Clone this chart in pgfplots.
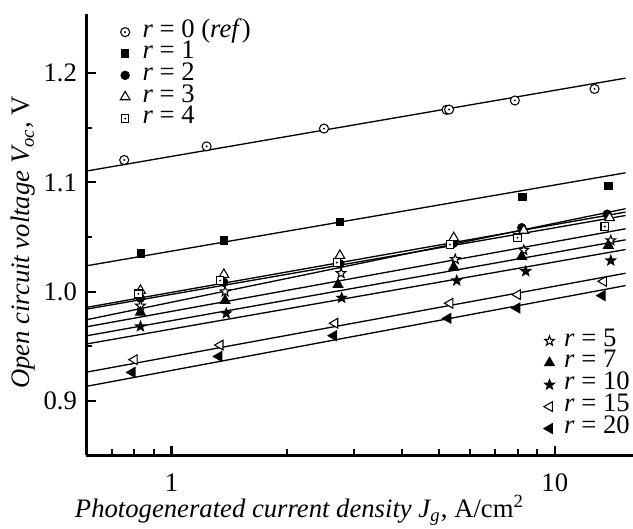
\documentclass[border=0pt]{standalone}
\usepackage{fontspec}
\setmainfont{Liberation Serif}
\usepackage{pgfplots}
\pgfplotsset{compat=1.18}
\usetikzlibrary{plotmarks}

\pgfdeclareplotmark{odot}{%
  \pgfpathcircle{\pgfpointorigin}{\pgfplotmarksize}\pgfusepathqfillstroke
  \begin{pgfscope}\pgfsetfillcolor{black}%
  \pgfpathcircle{\pgfpointorigin}{0.4pt}\pgfusepathqfill\end{pgfscope}}
\pgfdeclareplotmark{sdot}{%
  \pgfpathrectanglecorners{\pgfpoint{-\pgfplotmarksize}{-\pgfplotmarksize}}{\pgfpoint{\pgfplotmarksize}{\pgfplotmarksize}}\pgfusepathqfillstroke
  \begin{pgfscope}\pgfsetfillcolor{black}%
  \pgfpathcircle{\pgfpointorigin}{0.4pt}\pgfusepathqfill\end{pgfscope}}
\pgfdeclareplotmark{pstar}{%
  \pgfpathmoveto{\pgfpointpolar{90}{\pgfplotmarksize}}%
  \pgfpathlineto{\pgfpointpolar{126}{0.42\pgfplotmarksize}}%
  \pgfpathlineto{\pgfpointpolar{162}{\pgfplotmarksize}}%
  \pgfpathlineto{\pgfpointpolar{198}{0.42\pgfplotmarksize}}%
  \pgfpathlineto{\pgfpointpolar{234}{\pgfplotmarksize}}%
  \pgfpathlineto{\pgfpointpolar{270}{0.42\pgfplotmarksize}}%
  \pgfpathlineto{\pgfpointpolar{306}{\pgfplotmarksize}}%
  \pgfpathlineto{\pgfpointpolar{342}{0.42\pgfplotmarksize}}%
  \pgfpathlineto{\pgfpointpolar{18}{\pgfplotmarksize}}%
  \pgfpathlineto{\pgfpointpolar{54}{0.42\pgfplotmarksize}}%
  \pgfpathclose\pgfusepathqfillstroke}

\pgfplotsset{
  fitline/.style={black, line width=0.5pt, no marks, forget plot},
  dat/.style={black, only marks, mark options={line width=0.5pt}},
}

\begin{document}
\begin{tikzpicture}
\begin{axis}[name=main,
  scale only axis, width=204.9pt, height=165.6pt,
  xmode=log, xmin=0.6, xmax=16, ymin=0.85, ymax=1.2546,
  legend image code/.code={\draw plot coordinates {(0pt,0pt)}; \path[draw=none,fill=none] (0pt,0pt) -- (6.5pt,0pt);},
  axis x line=bottom, axis y line=left,
  axis line style={-, line width=1pt},
  tick align=inside,
  xtick={1,10}, xticklabels={1,10},
  minor xtick={0.7,0.8,0.9,2,3,4,5,6,7,8,9},
  ytick={0.9,1.0,1.1,1.2}, minor ytick={0.95,1.05,1.15},
  major tick length=3.6pt, minor tick length=2.2pt,
  every tick/.style={black, line width=0.8pt},
  /pgf/number format/assume math mode=true,
  yticklabel style={/pgf/number format/.cd, fixed, fixed zerofill, precision=1},
  xticklabel style={yshift=-3.5pt},
  xlabel={\textit{Photogenerated current density J\textsubscript{g}}, A/cm\textsuperscript{2}},
  ylabel={\textit{Open circuit voltage V\textsubscript{oc}}, V},
  xlabel style={at={(axis description cs:0.39,-0.140)}, anchor=base},
  ylabel style={at={(axis description cs:-0.1034,0.482)}, anchor=base},
  legend style={draw=none, fill=none, at={(axis description cs:0.062,0.9825)}, anchor=north west,
    inner sep=0pt, outer sep=0pt, row sep=0pt,
    nodes={inner sep=0pt, text height=6pt, text depth=2.1pt, anchor=west}},
  legend cell align=left,
]
\addplot[fitline] coordinates {(0.6,1.1104) (15.3,1.1955)};
\addplot[fitline] coordinates {(0.6,1.0236) (15.3,1.1088)};
\addplot[fitline] coordinates {(0.6,0.9742) (15.3,1.0759)};
\addplot[fitline] coordinates {(0.6,0.9855) (15.3,1.0728)};
\addplot[fitline] coordinates {(0.6,0.9839) (15.3,1.0697)};

\addplot[dat, mark=odot, mark size=1.7pt, mark options={fill=white}] coordinates {
 (0.753,1.1205) (1.235,1.1330) (2.50,1.1493) (5.22,1.1665) (5.30,1.1667) (7.87,1.1750) (12.7,1.1856)};
\addlegendentry{\textit{r} = 0 (\textit{ref})}
\addplot[dat, mark=square*, mark size=1.4pt, mark options={fill=black}] coordinates {
 (0.833,1.0350) (1.37,1.0470) (2.75,1.0636) (8.25,1.0865) (13.8,1.0968)};
\addlegendentry{\textit{r} = 1}
\addplot[dat, mark=*, mark size=1.55pt, mark options={fill=black}] coordinates {
 (0.83,0.9940) (1.37,1.0085) (2.75,1.0255) (5.43,1.0440) (8.2,1.0585) (13.7,1.0709)};
\addlegendentry{\textit{r} = 2}
\addplot[dat, mark=triangle*, mark size=2.1pt, mark options={fill=white}] coordinates {
 (0.83,1.0010) (1.37,1.0156) (2.75,1.0330) (5.45,1.0493) (8.3,1.0560) (13.9,1.0676)};
\addlegendentry{\textit{r} = 3}
\addplot[dat, mark=sdot, mark size=1.4pt, mark options={fill=white}] coordinates {
 (0.82,0.9980) (1.34,1.0100) (2.70,1.0266) (5.33,1.0430) (8.0,1.0493) (13.5,1.0596)};
\addlegendentry{\textit{r} = 4}
\end{axis}

\begin{axis}[
  scale only axis, width=204.9pt, height=165.6pt,
  xmode=log, xmin=0.6, xmax=16, ymin=0.85, ymax=1.2546,
  legend image code/.code={\draw plot coordinates {(0pt,0pt)}; \path[draw=none,fill=none] (0pt,0pt) -- (5.5pt,0pt);},
  hide axis,
  legend style={draw=none, fill=none, at={(axis description cs:0.837,0.036)}, anchor=south west,
    inner sep=0pt, outer sep=0pt, row sep=0pt,
    nodes={inner sep=0pt, text height=6pt, text depth=2.2pt, anchor=west}},
  legend cell align=left,
]
\addplot[fitline] coordinates {(0.6,0.9677) (15.3,1.0575)};
\addplot[fitline] coordinates {(0.6,0.9595) (15.3,1.0474)};
\addplot[fitline] coordinates {(0.6,0.9520) (15.3,1.0385)};
\addplot[fitline] coordinates {(0.6,0.9262) (15.3,1.0168)};
\addplot[fitline] coordinates {(0.6,0.9132) (15.3,1.0055)};

\addplot[dat, mark=pstar, mark size=1.9pt, mark options={fill=white}] coordinates {
 (0.83,0.9870) (1.38,1.0000) (2.77,1.0168) (5.5,1.0296) (8.3,1.0380) (14.0,1.0468)};
\addlegendentry{\textit{r} = 5}
\addplot[dat, mark=triangle*, mark size=2.1pt, mark options={fill=black}] coordinates {
 (0.83,0.9810) (1.38,0.9917) (2.72,1.0064) (5.45,1.0223) (8.2,1.0321) (13.8,1.0422)};
\addlegendentry{\textit{r} = 7}
\addplot[dat, mark=pstar, mark size=1.9pt, mark options={fill=black}] coordinates {
 (0.83,0.9680) (1.39,0.9800) (2.78,0.9942) (5.55,1.0101) (8.4,1.0186) (14.0,1.0284)};
\addlegendentry{\textit{r} = 10}
\addplot[dat, mark=triangle*, mark size=2.1pt, mark options={fill=white, rotate=90}] coordinates {
 (0.80,0.9376) (1.34,0.9510) (2.67,0.9710) (5.33,0.9893) (8.0,0.9972) (13.4,1.0094)};
\addlegendentry{\textit{r} = 15}
\addplot[dat, mark=triangle*, mark size=2.1pt, mark options={fill=black, rotate=90}] coordinates {
 (0.79,0.9260) (1.33,0.9406) (2.65,0.9596) (5.27,0.9755) (7.97,0.9850) (13.3,0.9963)};
\addlegendentry{\textit{r} = 20}
\end{axis}

\pgfresetboundingbox
\path[use as bounding box] ([xshift=-32.4pt,yshift=-27.4pt]main.south west) rectangle ([yshift=5.1pt]main.north east);
\end{tikzpicture}
\end{document}
